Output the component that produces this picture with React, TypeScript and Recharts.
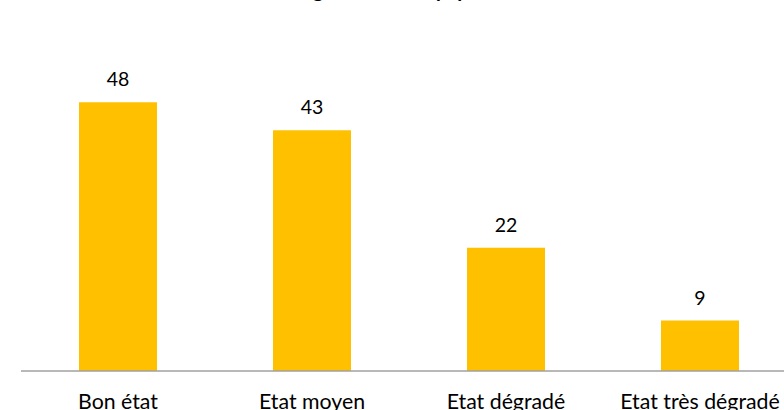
import React from "react";
import { BarChart, Bar, XAxis, YAxis, LabelList } from "recharts";

const categories = ["Bon état", "Etat moyen", "Etat dégradé", "Etat très dégradé"];
const values = [48, 43, 22, 9];
const title = "Etat général des équipements";

const data = categories.map((c, i) => ({ name: c, value: values[i] }));

const FONT = "Lato, 'Open Sans', sans-serif";

const Tick = (props: any) => {
  const { x, y, payload } = props;
  return (
    <text x={x} y={y + 30} textAnchor="middle" fill="#000" fontSize={21.3} fontFamily={FONT}>
      {payload.value}
    </text>
  );
};

export default function App() {
  return (
    <div style={{ position: "absolute", left: 0, top: 0, width: 784, height: 410, overflow: "hidden", background: "#fff" }}>
      <div
        style={{
          position: "absolute",
          left: 0,
          width: 806,
          top: -21,
          textAlign: "center",
          fontFamily: FONT,
          fontWeight: "bold",
          fontSize: 20,
          lineHeight: "20px",
          color: "#000",
        }}
      >
        {title}
      </div>
      <BarChart
        width={800}
        height={410}
        data={data}
        margin={{ top: 35, right: 3, bottom: 0, left: 21 }}
        barSize={78}
      >
        <YAxis hide domain={[0, 60]} />
        <XAxis
          dataKey="name"
          height={39}
          tickLine={false}
          axisLine={{ stroke: "#A0A0A0", strokeWidth: 1.5 }}
          tick={<Tick />}
          interval={0}
        />
        <Bar dataKey="value" fill="#FFC000" isAnimationActive={false}>
          <LabelList dataKey="value" position="top" offset={16} fill="#000" fontSize={19.5} fontFamily={FONT} />
        </Bar>
      </BarChart>
    </div>
  );
}
